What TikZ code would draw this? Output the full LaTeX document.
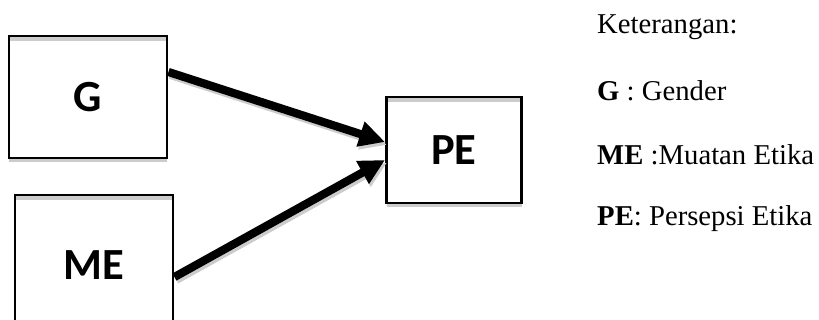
\documentclass[tikz,border=0pt]{standalone}
\usepackage{fontspec}
\setmainfont{Liberation Serif}
\newfontfamily\boxfont{Carlito}
\usetikzlibrary{arrows.meta,shadows}

\tikzset{
  varbox/.style={draw, line width=2.5pt, fill=white, inner sep=0pt,
    font=\boxfont\bfseries\fontsize{38}{40}\selectfont,
    drop shadow={shadow xshift=0pt, shadow yshift=-3pt, fill=black!20, opacity=1},
    path picture={\fill[black!20] ([yshift=-1pt]path picture bounding box.north west)
      rectangle ([yshift=-4.5pt]path picture bounding box.north east);}},
  link/.style={line width=7pt, -{Triangle[length=22pt,width=21pt]}},
  linkshade/.style={link, black!20, transform canvas={xshift=1.5pt,yshift=-2.5pt}},
  legend/.style={anchor=west, inner sep=0pt, font=\fontsize{24.5}{28}\selectfont},
}

\begin{document}
\begin{tikzpicture}[x=0.03cm, y=-0.03cm]
    \useasboundingbox (0,0) rectangle (819,320);

    % variables
    \node[varbox, minimum width=4.74cm, minimum height=3.66cm] (g)  at (88,97)   {G};
    \node[varbox, minimum width=4.74cm, minimum height=4.2cm]  (me) at (94,265)  {ME};
    \node[varbox, minimum width=4.05cm, minimum height=3.18cm] (pe) at (454,150) {PE};

    % arrows
    \draw[linkshade] ([yshift=0.75cm]g.east) -- ([yshift=0.24cm]pe.west);
    \draw[linkshade] ([yshift=-0.36cm]me.east) -- ([yshift=-0.3cm]pe.west);
    \draw[link] ([yshift=0.75cm]g.east) -- ([yshift=0.24cm]pe.west);
    \draw[link] ([yshift=-0.36cm]me.east) -- ([yshift=-0.3cm]pe.west);

    % keterangan
    \node[legend] (ket) at (597,27)  {Keterangan:};
    \node[legend] (lg)  at (597,91)  {\textbf{G} : Gender};
    \node[legend] (lme) at (597,155) {\textbf{ME} :Muatan Etika};
    \node[legend] (lpe) at (597,219) {\textbf{PE}: Persepsi Etika};

\end{tikzpicture}
\end{document}
